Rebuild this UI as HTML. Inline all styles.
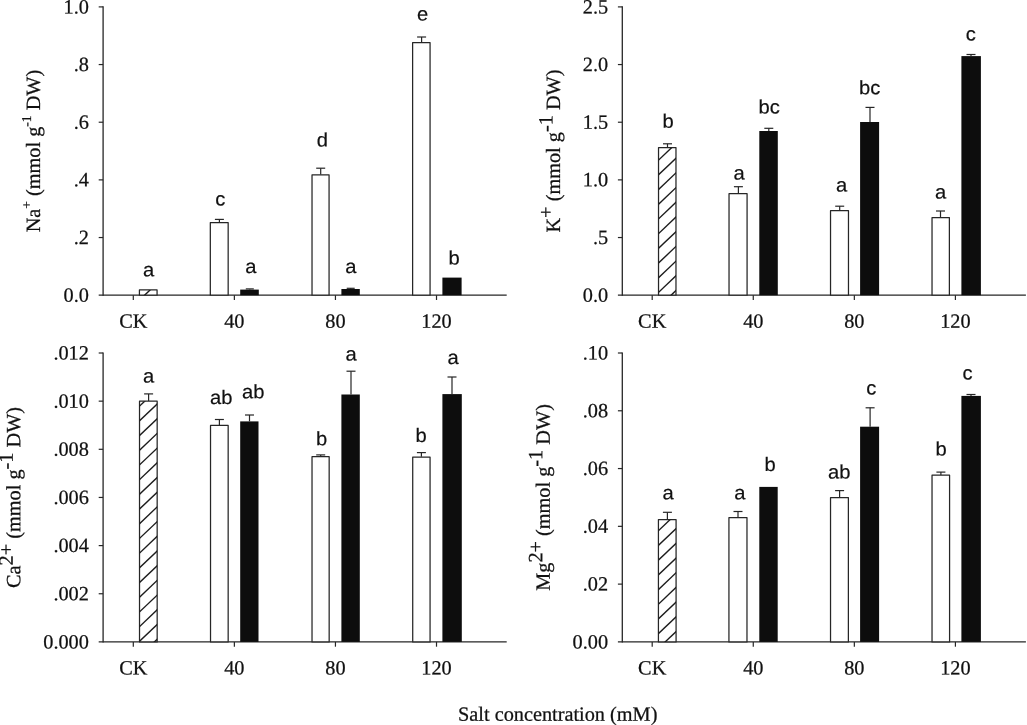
<!DOCTYPE html>
<html><head><meta charset="utf-8"><title>Figure</title>
<style>
html,body{margin:0;padding:0;background:#fff;}
body{width:1027px;height:725px;overflow:hidden;font-family:"Liberation Serif",serif;}
svg{display:block;filter:grayscale(1) blur(0.35px);}
</style></head>
<body>
<svg width="1027" height="725" viewBox="0 0 1027 725">
<rect width="1027" height="725" fill="#fff"/>
<line x1="103.10" y1="6.28" x2="103.10" y2="295.82" stroke="#262626" stroke-width="1.3"/>
<line x1="98.70" y1="295.20" x2="506.70" y2="295.20" stroke="#262626" stroke-width="1.3"/>
<text transform="translate(88.90,301.70) rotate(0.03)" text-anchor="end" font-family='"Liberation Serif", serif' font-size="20.3" fill="#111" stroke="#111" stroke-width="0.25">0.0</text>
<line x1="98.70" y1="237.54" x2="103.10" y2="237.54" stroke="#262626" stroke-width="1.2"/>
<text transform="translate(88.90,244.04) rotate(0.03)" text-anchor="end" font-family='"Liberation Serif", serif' font-size="20.3" fill="#111" stroke="#111" stroke-width="0.25">.2</text>
<line x1="98.70" y1="179.88" x2="103.10" y2="179.88" stroke="#262626" stroke-width="1.2"/>
<text transform="translate(88.90,186.38) rotate(0.03)" text-anchor="end" font-family='"Liberation Serif", serif' font-size="20.3" fill="#111" stroke="#111" stroke-width="0.25">.4</text>
<line x1="98.70" y1="122.22" x2="103.10" y2="122.22" stroke="#262626" stroke-width="1.2"/>
<text transform="translate(88.90,128.72) rotate(0.03)" text-anchor="end" font-family='"Liberation Serif", serif' font-size="20.3" fill="#111" stroke="#111" stroke-width="0.25">.6</text>
<line x1="98.70" y1="64.56" x2="103.10" y2="64.56" stroke="#262626" stroke-width="1.2"/>
<text transform="translate(88.90,71.06) rotate(0.03)" text-anchor="end" font-family='"Liberation Serif", serif' font-size="20.3" fill="#111" stroke="#111" stroke-width="0.25">.8</text>
<line x1="98.70" y1="6.90" x2="103.10" y2="6.90" stroke="#262626" stroke-width="1.2"/>
<text transform="translate(88.90,13.40) rotate(0.03)" text-anchor="end" font-family='"Liberation Serif", serif' font-size="20.3" fill="#111" stroke="#111" stroke-width="0.25">1.0</text>
<line x1="133.30" y1="295.20" x2="133.30" y2="300.00" stroke="#262626" stroke-width="1.2"/>
<text transform="translate(133.30,327.70) rotate(0.03)" text-anchor="middle" font-family='"Liberation Serif", serif' font-size="20.3" fill="#111" stroke="#111" stroke-width="0.25">CK</text>
<line x1="234.37" y1="295.20" x2="234.37" y2="300.00" stroke="#262626" stroke-width="1.2"/>
<text transform="translate(234.37,327.70) rotate(0.03)" text-anchor="middle" font-family='"Liberation Serif", serif' font-size="20.3" fill="#111" stroke="#111" stroke-width="0.25">40</text>
<line x1="335.44" y1="295.20" x2="335.44" y2="300.00" stroke="#262626" stroke-width="1.2"/>
<text transform="translate(335.44,327.70) rotate(0.03)" text-anchor="middle" font-family='"Liberation Serif", serif' font-size="20.3" fill="#111" stroke="#111" stroke-width="0.25">80</text>
<line x1="436.51" y1="295.20" x2="436.51" y2="300.00" stroke="#262626" stroke-width="1.2"/>
<text transform="translate(436.51,327.70) rotate(0.03)" text-anchor="middle" font-family='"Liberation Serif", serif' font-size="20.3" fill="#111" stroke="#111" stroke-width="0.25">120</text>
<text transform="translate(40,151.05) rotate(-89.97)" text-anchor="middle" font-family='"Liberation Serif", serif' font-size="20.3" fill="#111" stroke="#111" stroke-width="0.25">Na<tspan dy="-9" font-size="13.5">+</tspan><tspan dy="9" font-size="13.5">&#8203;</tspan> (mmol g<tspan dy="-9" font-size="13.5">-1</tspan><tspan dy="9" font-size="13.5">&#8203;</tspan> DW)</text>
<rect x="139.42" y="289.93" width="17.65" height="5.27" fill="#fff" stroke="#262626" stroke-width="1.25" stroke-linejoin="round"/>
<clipPath id="c1"><rect x="139.42" y="289.93" width="17.65" height="5.27"/></clipPath>
<g clip-path="url(#c1)">
<line x1="135.80" y1="332.95" x2="160.70" y2="309.29" stroke="#1c1c1c" stroke-width="1.4"/>
<line x1="135.80" y1="318.25" x2="160.70" y2="294.59" stroke="#1c1c1c" stroke-width="1.4"/>
<line x1="135.80" y1="303.55" x2="160.70" y2="279.89" stroke="#1c1c1c" stroke-width="1.4"/>
<line x1="135.80" y1="288.85" x2="160.70" y2="265.19" stroke="#1c1c1c" stroke-width="1.4"/>
</g>
<rect x="210.32" y="222.53" width="17.85" height="72.67" fill="#fff" stroke="#262626" stroke-width="1.25" stroke-linejoin="round"/>
<line x1="219.40" y1="222.30" x2="219.40" y2="219.40" stroke="#262626" stroke-width="1.2"/>
<line x1="214.90" y1="219.40" x2="223.90" y2="219.40" stroke="#262626" stroke-width="1.2"/>
<rect x="240.20" y="289.60" width="18.60" height="5.60" fill="#0d0d0d"/>
<line x1="249.80" y1="289.60" x2="249.80" y2="288.90" stroke="#262626" stroke-width="1.2"/>
<line x1="245.80" y1="288.90" x2="253.80" y2="288.90" stroke="#262626" stroke-width="1.2"/>
<rect x="312.02" y="174.82" width="17.05" height="120.38" fill="#fff" stroke="#262626" stroke-width="1.25" stroke-linejoin="round"/>
<line x1="320.70" y1="174.60" x2="320.70" y2="168.20" stroke="#262626" stroke-width="1.2"/>
<line x1="316.20" y1="168.20" x2="325.20" y2="168.20" stroke="#262626" stroke-width="1.2"/>
<rect x="341.40" y="289.00" width="18.40" height="6.20" fill="#0d0d0d"/>
<line x1="350.70" y1="289.00" x2="350.70" y2="288.30" stroke="#262626" stroke-width="1.2"/>
<line x1="346.70" y1="288.30" x2="354.70" y2="288.30" stroke="#262626" stroke-width="1.2"/>
<rect x="412.62" y="42.52" width="17.45" height="252.67" fill="#fff" stroke="#262626" stroke-width="1.25" stroke-linejoin="round"/>
<line x1="421.60" y1="42.30" x2="421.60" y2="37.00" stroke="#262626" stroke-width="1.2"/>
<line x1="417.10" y1="37.00" x2="426.10" y2="37.00" stroke="#262626" stroke-width="1.2"/>
<rect x="442.40" y="277.60" width="19.20" height="17.60" fill="#0d0d0d"/>
<text transform="translate(148.50,276.30) rotate(0.03) scale(1.04,1)" text-anchor="middle" font-family='"Liberation Sans", sans-serif' font-size="19.4" fill="#111" stroke="#111" stroke-width="0.2">a</text>
<text transform="translate(220.20,205.50) rotate(0.03) scale(1.04,1)" text-anchor="middle" font-family='"Liberation Sans", sans-serif' font-size="19.4" fill="#111" stroke="#111" stroke-width="0.2">c</text>
<text transform="translate(250.80,273.10) rotate(0.03) scale(1.04,1)" text-anchor="middle" font-family='"Liberation Sans", sans-serif' font-size="19.4" fill="#111" stroke="#111" stroke-width="0.2">a</text>
<text transform="translate(322.40,146.40) rotate(0.03) scale(1.04,1)" text-anchor="middle" font-family='"Liberation Sans", sans-serif' font-size="19.4" fill="#111" stroke="#111" stroke-width="0.2">d</text>
<text transform="translate(350.90,273.10) rotate(0.03) scale(1.04,1)" text-anchor="middle" font-family='"Liberation Sans", sans-serif' font-size="19.4" fill="#111" stroke="#111" stroke-width="0.2">a</text>
<text transform="translate(422.70,20.50) rotate(0.03) scale(1.04,1)" text-anchor="middle" font-family='"Liberation Sans", sans-serif' font-size="19.4" fill="#111" stroke="#111" stroke-width="0.2">e</text>
<text transform="translate(454.20,264.50) rotate(0.03) scale(1.04,1)" text-anchor="middle" font-family='"Liberation Sans", sans-serif' font-size="19.4" fill="#111" stroke="#111" stroke-width="0.2">b</text>
<line x1="622.30" y1="6.28" x2="622.30" y2="295.82" stroke="#262626" stroke-width="1.3"/>
<line x1="617.90" y1="295.20" x2="1025.90" y2="295.20" stroke="#262626" stroke-width="1.3"/>
<text transform="translate(608.10,301.70) rotate(0.03)" text-anchor="end" font-family='"Liberation Serif", serif' font-size="20.3" fill="#111" stroke="#111" stroke-width="0.25">0.0</text>
<line x1="617.90" y1="237.54" x2="622.30" y2="237.54" stroke="#262626" stroke-width="1.2"/>
<text transform="translate(608.10,244.04) rotate(0.03)" text-anchor="end" font-family='"Liberation Serif", serif' font-size="20.3" fill="#111" stroke="#111" stroke-width="0.25">.5</text>
<line x1="617.90" y1="179.88" x2="622.30" y2="179.88" stroke="#262626" stroke-width="1.2"/>
<text transform="translate(608.10,186.38) rotate(0.03)" text-anchor="end" font-family='"Liberation Serif", serif' font-size="20.3" fill="#111" stroke="#111" stroke-width="0.25">1.0</text>
<line x1="617.90" y1="122.22" x2="622.30" y2="122.22" stroke="#262626" stroke-width="1.2"/>
<text transform="translate(608.10,128.72) rotate(0.03)" text-anchor="end" font-family='"Liberation Serif", serif' font-size="20.3" fill="#111" stroke="#111" stroke-width="0.25">1.5</text>
<line x1="617.90" y1="64.56" x2="622.30" y2="64.56" stroke="#262626" stroke-width="1.2"/>
<text transform="translate(608.10,71.06) rotate(0.03)" text-anchor="end" font-family='"Liberation Serif", serif' font-size="20.3" fill="#111" stroke="#111" stroke-width="0.25">2.0</text>
<line x1="617.90" y1="6.90" x2="622.30" y2="6.90" stroke="#262626" stroke-width="1.2"/>
<text transform="translate(608.10,13.40) rotate(0.03)" text-anchor="end" font-family='"Liberation Serif", serif' font-size="20.3" fill="#111" stroke="#111" stroke-width="0.25">2.5</text>
<line x1="652.20" y1="295.20" x2="652.20" y2="300.00" stroke="#262626" stroke-width="1.2"/>
<text transform="translate(652.20,327.70) rotate(0.03)" text-anchor="middle" font-family='"Liberation Serif", serif' font-size="20.3" fill="#111" stroke="#111" stroke-width="0.25">CK</text>
<line x1="753.27" y1="295.20" x2="753.27" y2="300.00" stroke="#262626" stroke-width="1.2"/>
<text transform="translate(753.27,327.70) rotate(0.03)" text-anchor="middle" font-family='"Liberation Serif", serif' font-size="20.3" fill="#111" stroke="#111" stroke-width="0.25">40</text>
<line x1="854.34" y1="295.20" x2="854.34" y2="300.00" stroke="#262626" stroke-width="1.2"/>
<text transform="translate(854.34,327.70) rotate(0.03)" text-anchor="middle" font-family='"Liberation Serif", serif' font-size="20.3" fill="#111" stroke="#111" stroke-width="0.25">80</text>
<line x1="955.41" y1="295.20" x2="955.41" y2="300.00" stroke="#262626" stroke-width="1.2"/>
<text transform="translate(955.41,327.70) rotate(0.03)" text-anchor="middle" font-family='"Liberation Serif", serif' font-size="20.3" fill="#111" stroke="#111" stroke-width="0.25">120</text>
<text transform="translate(560,151.05) rotate(-89.97)" text-anchor="middle" font-family='"Liberation Serif", serif' font-size="20.3" fill="#111" stroke="#111" stroke-width="0.25">K<tspan dy="-7.5" font-size="20.3">+</tspan><tspan dy="7.5" font-size="20.3">&#8203;</tspan> (mmol g<tspan dy="-7.5" font-size="20.3">-1</tspan><tspan dy="7.5" font-size="20.3">&#8203;</tspan> DW)</text>
<rect x="658.53" y="147.62" width="17.45" height="147.57" fill="#fff" stroke="#262626" stroke-width="1.25" stroke-linejoin="round"/>
<clipPath id="c2"><rect x="658.53" y="147.62" width="17.45" height="147.57"/></clipPath>
<g clip-path="url(#c2)">
<line x1="654.90" y1="339.95" x2="679.60" y2="316.49" stroke="#1c1c1c" stroke-width="1.4"/>
<line x1="654.90" y1="325.25" x2="679.60" y2="301.79" stroke="#1c1c1c" stroke-width="1.4"/>
<line x1="654.90" y1="310.55" x2="679.60" y2="287.09" stroke="#1c1c1c" stroke-width="1.4"/>
<line x1="654.90" y1="295.85" x2="679.60" y2="272.39" stroke="#1c1c1c" stroke-width="1.4"/>
<line x1="654.90" y1="281.15" x2="679.60" y2="257.69" stroke="#1c1c1c" stroke-width="1.4"/>
<line x1="654.90" y1="266.45" x2="679.60" y2="242.99" stroke="#1c1c1c" stroke-width="1.4"/>
<line x1="654.90" y1="251.75" x2="679.60" y2="228.29" stroke="#1c1c1c" stroke-width="1.4"/>
<line x1="654.90" y1="237.05" x2="679.60" y2="213.59" stroke="#1c1c1c" stroke-width="1.4"/>
<line x1="654.90" y1="222.35" x2="679.60" y2="198.89" stroke="#1c1c1c" stroke-width="1.4"/>
<line x1="654.90" y1="207.65" x2="679.60" y2="184.19" stroke="#1c1c1c" stroke-width="1.4"/>
<line x1="654.90" y1="192.95" x2="679.60" y2="169.49" stroke="#1c1c1c" stroke-width="1.4"/>
<line x1="654.90" y1="178.25" x2="679.60" y2="154.79" stroke="#1c1c1c" stroke-width="1.4"/>
<line x1="654.90" y1="163.55" x2="679.60" y2="140.09" stroke="#1c1c1c" stroke-width="1.4"/>
<line x1="654.90" y1="148.85" x2="679.60" y2="125.39" stroke="#1c1c1c" stroke-width="1.4"/>
</g>
<line x1="667.50" y1="147.60" x2="667.50" y2="143.80" stroke="#262626" stroke-width="1.2"/>
<line x1="663.00" y1="143.80" x2="672.00" y2="143.80" stroke="#262626" stroke-width="1.2"/>
<rect x="729.03" y="193.72" width="18.05" height="101.47" fill="#fff" stroke="#262626" stroke-width="1.25" stroke-linejoin="round"/>
<line x1="738.40" y1="193.50" x2="738.40" y2="186.70" stroke="#262626" stroke-width="1.2"/>
<line x1="733.90" y1="186.70" x2="742.90" y2="186.70" stroke="#262626" stroke-width="1.2"/>
<rect x="759.30" y="131.00" width="18.50" height="164.20" fill="#0d0d0d"/>
<line x1="768.80" y1="131.00" x2="768.80" y2="128.30" stroke="#262626" stroke-width="1.2"/>
<line x1="764.30" y1="128.30" x2="773.30" y2="128.30" stroke="#262626" stroke-width="1.2"/>
<rect x="830.53" y="210.72" width="17.95" height="84.47" fill="#fff" stroke="#262626" stroke-width="1.25" stroke-linejoin="round"/>
<line x1="839.70" y1="210.50" x2="839.70" y2="206.20" stroke="#262626" stroke-width="1.2"/>
<line x1="835.20" y1="206.20" x2="844.20" y2="206.20" stroke="#262626" stroke-width="1.2"/>
<rect x="860.10" y="122.00" width="19.00" height="173.20" fill="#0d0d0d"/>
<line x1="870.00" y1="122.00" x2="870.00" y2="107.40" stroke="#262626" stroke-width="1.2"/>
<line x1="865.50" y1="107.40" x2="874.50" y2="107.40" stroke="#262626" stroke-width="1.2"/>
<rect x="932.03" y="217.62" width="17.35" height="77.57" fill="#fff" stroke="#262626" stroke-width="1.25" stroke-linejoin="round"/>
<line x1="940.50" y1="217.40" x2="940.50" y2="211.00" stroke="#262626" stroke-width="1.2"/>
<line x1="936.00" y1="211.00" x2="945.00" y2="211.00" stroke="#262626" stroke-width="1.2"/>
<rect x="961.40" y="56.10" width="19.50" height="239.10" fill="#0d0d0d"/>
<line x1="971.00" y1="56.10" x2="971.00" y2="54.50" stroke="#262626" stroke-width="1.2"/>
<line x1="966.50" y1="54.50" x2="975.50" y2="54.50" stroke="#262626" stroke-width="1.2"/>
<text transform="translate(668.10,127.70) rotate(0.03) scale(1.04,1)" text-anchor="middle" font-family='"Liberation Sans", sans-serif' font-size="19.4" fill="#111" stroke="#111" stroke-width="0.2">b</text>
<text transform="translate(739.00,179.40) rotate(0.03) scale(1.04,1)" text-anchor="middle" font-family='"Liberation Sans", sans-serif' font-size="19.4" fill="#111" stroke="#111" stroke-width="0.2">a</text>
<text transform="translate(769.10,113.60) rotate(0.03) scale(1.04,1)" text-anchor="middle" font-family='"Liberation Sans", sans-serif' font-size="19.4" fill="#111" stroke="#111" stroke-width="0.2">bc</text>
<text transform="translate(841.60,191.60) rotate(0.03) scale(1.04,1)" text-anchor="middle" font-family='"Liberation Sans", sans-serif' font-size="19.4" fill="#111" stroke="#111" stroke-width="0.2">a</text>
<text transform="translate(869.70,94.30) rotate(0.03) scale(1.04,1)" text-anchor="middle" font-family='"Liberation Sans", sans-serif' font-size="19.4" fill="#111" stroke="#111" stroke-width="0.2">bc</text>
<text transform="translate(940.50,198.50) rotate(0.03) scale(1.04,1)" text-anchor="middle" font-family='"Liberation Sans", sans-serif' font-size="19.4" fill="#111" stroke="#111" stroke-width="0.2">a</text>
<text transform="translate(970.70,40.40) rotate(0.03) scale(1.04,1)" text-anchor="middle" font-family='"Liberation Sans", sans-serif' font-size="19.4" fill="#111" stroke="#111" stroke-width="0.2">c</text>
<line x1="103.10" y1="352.38" x2="103.10" y2="642.52" stroke="#262626" stroke-width="1.3"/>
<line x1="98.70" y1="641.90" x2="506.70" y2="641.90" stroke="#262626" stroke-width="1.3"/>
<text transform="translate(88.90,648.40) rotate(0.03)" text-anchor="end" font-family='"Liberation Serif", serif' font-size="20.3" fill="#111" stroke="#111" stroke-width="0.25">0.000</text>
<line x1="98.70" y1="593.75" x2="103.10" y2="593.75" stroke="#262626" stroke-width="1.2"/>
<text transform="translate(88.90,600.25) rotate(0.03)" text-anchor="end" font-family='"Liberation Serif", serif' font-size="20.3" fill="#111" stroke="#111" stroke-width="0.25">.002</text>
<line x1="98.70" y1="545.60" x2="103.10" y2="545.60" stroke="#262626" stroke-width="1.2"/>
<text transform="translate(88.90,552.10) rotate(0.03)" text-anchor="end" font-family='"Liberation Serif", serif' font-size="20.3" fill="#111" stroke="#111" stroke-width="0.25">.004</text>
<line x1="98.70" y1="497.45" x2="103.10" y2="497.45" stroke="#262626" stroke-width="1.2"/>
<text transform="translate(88.90,503.95) rotate(0.03)" text-anchor="end" font-family='"Liberation Serif", serif' font-size="20.3" fill="#111" stroke="#111" stroke-width="0.25">.006</text>
<line x1="98.70" y1="449.30" x2="103.10" y2="449.30" stroke="#262626" stroke-width="1.2"/>
<text transform="translate(88.90,455.80) rotate(0.03)" text-anchor="end" font-family='"Liberation Serif", serif' font-size="20.3" fill="#111" stroke="#111" stroke-width="0.25">.008</text>
<line x1="98.70" y1="401.15" x2="103.10" y2="401.15" stroke="#262626" stroke-width="1.2"/>
<text transform="translate(88.90,407.65) rotate(0.03)" text-anchor="end" font-family='"Liberation Serif", serif' font-size="20.3" fill="#111" stroke="#111" stroke-width="0.25">.010</text>
<line x1="98.70" y1="353.00" x2="103.10" y2="353.00" stroke="#262626" stroke-width="1.2"/>
<text transform="translate(88.90,359.50) rotate(0.03)" text-anchor="end" font-family='"Liberation Serif", serif' font-size="20.3" fill="#111" stroke="#111" stroke-width="0.25">.012</text>
<line x1="133.30" y1="641.90" x2="133.30" y2="646.70" stroke="#262626" stroke-width="1.2"/>
<text transform="translate(133.30,674.40) rotate(0.03)" text-anchor="middle" font-family='"Liberation Serif", serif' font-size="20.3" fill="#111" stroke="#111" stroke-width="0.25">CK</text>
<line x1="234.37" y1="641.90" x2="234.37" y2="646.70" stroke="#262626" stroke-width="1.2"/>
<text transform="translate(234.37,674.40) rotate(0.03)" text-anchor="middle" font-family='"Liberation Serif", serif' font-size="20.3" fill="#111" stroke="#111" stroke-width="0.25">40</text>
<line x1="335.44" y1="641.90" x2="335.44" y2="646.70" stroke="#262626" stroke-width="1.2"/>
<text transform="translate(335.44,674.40) rotate(0.03)" text-anchor="middle" font-family='"Liberation Serif", serif' font-size="20.3" fill="#111" stroke="#111" stroke-width="0.25">80</text>
<line x1="436.51" y1="641.90" x2="436.51" y2="646.70" stroke="#262626" stroke-width="1.2"/>
<text transform="translate(436.51,674.40) rotate(0.03)" text-anchor="middle" font-family='"Liberation Serif", serif' font-size="20.3" fill="#111" stroke="#111" stroke-width="0.25">120</text>
<text transform="translate(20.2,497.45) rotate(-89.97)" text-anchor="middle" font-family='"Liberation Serif", serif' font-size="20.3" fill="#111" stroke="#111" stroke-width="0.25">Ca<tspan dy="-7.5" font-size="20.3">2+</tspan><tspan dy="7.5" font-size="20.3">&#8203;</tspan> (mmol g<tspan dy="-7.5" font-size="20.3">-1</tspan><tspan dy="7.5" font-size="20.3">&#8203;</tspan> DW)</text>
<rect x="139.52" y="401.23" width="17.65" height="240.67" fill="#fff" stroke="#262626" stroke-width="1.25" stroke-linejoin="round"/>
<clipPath id="c3"><rect x="139.52" y="401.23" width="17.65" height="240.67"/></clipPath>
<g clip-path="url(#c3)">
<line x1="135.90" y1="688.85" x2="160.80" y2="665.20" stroke="#1c1c1c" stroke-width="1.4"/>
<line x1="135.90" y1="674.15" x2="160.80" y2="650.50" stroke="#1c1c1c" stroke-width="1.4"/>
<line x1="135.90" y1="659.45" x2="160.80" y2="635.80" stroke="#1c1c1c" stroke-width="1.4"/>
<line x1="135.90" y1="644.75" x2="160.80" y2="621.10" stroke="#1c1c1c" stroke-width="1.4"/>
<line x1="135.90" y1="630.05" x2="160.80" y2="606.39" stroke="#1c1c1c" stroke-width="1.4"/>
<line x1="135.90" y1="615.35" x2="160.80" y2="591.69" stroke="#1c1c1c" stroke-width="1.4"/>
<line x1="135.90" y1="600.65" x2="160.80" y2="576.99" stroke="#1c1c1c" stroke-width="1.4"/>
<line x1="135.90" y1="585.95" x2="160.80" y2="562.29" stroke="#1c1c1c" stroke-width="1.4"/>
<line x1="135.90" y1="571.25" x2="160.80" y2="547.59" stroke="#1c1c1c" stroke-width="1.4"/>
<line x1="135.90" y1="556.55" x2="160.80" y2="532.89" stroke="#1c1c1c" stroke-width="1.4"/>
<line x1="135.90" y1="541.85" x2="160.80" y2="518.19" stroke="#1c1c1c" stroke-width="1.4"/>
<line x1="135.90" y1="527.15" x2="160.80" y2="503.49" stroke="#1c1c1c" stroke-width="1.4"/>
<line x1="135.90" y1="512.45" x2="160.80" y2="488.79" stroke="#1c1c1c" stroke-width="1.4"/>
<line x1="135.90" y1="497.75" x2="160.80" y2="474.09" stroke="#1c1c1c" stroke-width="1.4"/>
<line x1="135.90" y1="483.05" x2="160.80" y2="459.39" stroke="#1c1c1c" stroke-width="1.4"/>
<line x1="135.90" y1="468.35" x2="160.80" y2="444.69" stroke="#1c1c1c" stroke-width="1.4"/>
<line x1="135.90" y1="453.65" x2="160.80" y2="429.99" stroke="#1c1c1c" stroke-width="1.4"/>
<line x1="135.90" y1="438.95" x2="160.80" y2="415.29" stroke="#1c1c1c" stroke-width="1.4"/>
<line x1="135.90" y1="424.25" x2="160.80" y2="400.59" stroke="#1c1c1c" stroke-width="1.4"/>
<line x1="135.90" y1="409.55" x2="160.80" y2="385.89" stroke="#1c1c1c" stroke-width="1.4"/>
</g>
<line x1="148.60" y1="401.00" x2="148.60" y2="393.90" stroke="#262626" stroke-width="1.2"/>
<line x1="144.10" y1="393.90" x2="153.10" y2="393.90" stroke="#262626" stroke-width="1.2"/>
<rect x="210.52" y="425.43" width="17.65" height="216.47" fill="#fff" stroke="#262626" stroke-width="1.25" stroke-linejoin="round"/>
<line x1="219.40" y1="425.20" x2="219.40" y2="419.50" stroke="#262626" stroke-width="1.2"/>
<line x1="214.90" y1="419.50" x2="223.90" y2="419.50" stroke="#262626" stroke-width="1.2"/>
<rect x="240.20" y="421.40" width="18.30" height="220.50" fill="#0d0d0d"/>
<line x1="249.50" y1="421.40" x2="249.50" y2="415.00" stroke="#262626" stroke-width="1.2"/>
<line x1="245.00" y1="415.00" x2="254.00" y2="415.00" stroke="#262626" stroke-width="1.2"/>
<rect x="312.02" y="456.73" width="17.15" height="185.17" fill="#fff" stroke="#262626" stroke-width="1.25" stroke-linejoin="round"/>
<line x1="320.70" y1="456.50" x2="320.70" y2="454.90" stroke="#262626" stroke-width="1.2"/>
<line x1="316.20" y1="454.90" x2="325.20" y2="454.90" stroke="#262626" stroke-width="1.2"/>
<rect x="341.40" y="394.50" width="18.40" height="247.40" fill="#0d0d0d"/>
<line x1="351.00" y1="394.50" x2="351.00" y2="371.20" stroke="#262626" stroke-width="1.2"/>
<line x1="346.50" y1="371.20" x2="355.50" y2="371.20" stroke="#262626" stroke-width="1.2"/>
<rect x="412.72" y="457.03" width="17.35" height="184.87" fill="#fff" stroke="#262626" stroke-width="1.25" stroke-linejoin="round"/>
<line x1="421.40" y1="456.80" x2="421.40" y2="452.60" stroke="#262626" stroke-width="1.2"/>
<line x1="416.90" y1="452.60" x2="425.90" y2="452.60" stroke="#262626" stroke-width="1.2"/>
<rect x="442.40" y="394.10" width="19.40" height="247.80" fill="#0d0d0d"/>
<line x1="452.00" y1="394.10" x2="452.00" y2="377.00" stroke="#262626" stroke-width="1.2"/>
<line x1="447.50" y1="377.00" x2="456.50" y2="377.00" stroke="#262626" stroke-width="1.2"/>
<text transform="translate(148.70,382.40) rotate(0.03) scale(1.04,1)" text-anchor="middle" font-family='"Liberation Sans", sans-serif' font-size="19.4" fill="#111" stroke="#111" stroke-width="0.2">a</text>
<text transform="translate(221.20,404.00) rotate(0.03) scale(1.04,1)" text-anchor="middle" font-family='"Liberation Sans", sans-serif' font-size="19.4" fill="#111" stroke="#111" stroke-width="0.2">ab</text>
<text transform="translate(253.30,398.30) rotate(0.03) scale(1.04,1)" text-anchor="middle" font-family='"Liberation Sans", sans-serif' font-size="19.4" fill="#111" stroke="#111" stroke-width="0.2">ab</text>
<text transform="translate(321.50,445.30) rotate(0.03) scale(1.04,1)" text-anchor="middle" font-family='"Liberation Sans", sans-serif' font-size="19.4" fill="#111" stroke="#111" stroke-width="0.2">b</text>
<text transform="translate(351.00,360.50) rotate(0.03) scale(1.04,1)" text-anchor="middle" font-family='"Liberation Sans", sans-serif' font-size="19.4" fill="#111" stroke="#111" stroke-width="0.2">a</text>
<text transform="translate(421.00,442.00) rotate(0.03) scale(1.04,1)" text-anchor="middle" font-family='"Liberation Sans", sans-serif' font-size="19.4" fill="#111" stroke="#111" stroke-width="0.2">b</text>
<text transform="translate(453.10,363.90) rotate(0.03) scale(1.04,1)" text-anchor="middle" font-family='"Liberation Sans", sans-serif' font-size="19.4" fill="#111" stroke="#111" stroke-width="0.2">a</text>
<line x1="622.30" y1="352.38" x2="622.30" y2="642.52" stroke="#262626" stroke-width="1.3"/>
<line x1="617.90" y1="641.90" x2="1025.90" y2="641.90" stroke="#262626" stroke-width="1.3"/>
<text transform="translate(608.10,648.40) rotate(0.03)" text-anchor="end" font-family='"Liberation Serif", serif' font-size="20.3" fill="#111" stroke="#111" stroke-width="0.25">0.00</text>
<line x1="617.90" y1="584.12" x2="622.30" y2="584.12" stroke="#262626" stroke-width="1.2"/>
<text transform="translate(608.10,590.62) rotate(0.03)" text-anchor="end" font-family='"Liberation Serif", serif' font-size="20.3" fill="#111" stroke="#111" stroke-width="0.25">.02</text>
<line x1="617.90" y1="526.34" x2="622.30" y2="526.34" stroke="#262626" stroke-width="1.2"/>
<text transform="translate(608.10,532.84) rotate(0.03)" text-anchor="end" font-family='"Liberation Serif", serif' font-size="20.3" fill="#111" stroke="#111" stroke-width="0.25">.04</text>
<line x1="617.90" y1="468.56" x2="622.30" y2="468.56" stroke="#262626" stroke-width="1.2"/>
<text transform="translate(608.10,475.06) rotate(0.03)" text-anchor="end" font-family='"Liberation Serif", serif' font-size="20.3" fill="#111" stroke="#111" stroke-width="0.25">.06</text>
<line x1="617.90" y1="410.78" x2="622.30" y2="410.78" stroke="#262626" stroke-width="1.2"/>
<text transform="translate(608.10,417.28) rotate(0.03)" text-anchor="end" font-family='"Liberation Serif", serif' font-size="20.3" fill="#111" stroke="#111" stroke-width="0.25">.08</text>
<line x1="617.90" y1="353.00" x2="622.30" y2="353.00" stroke="#262626" stroke-width="1.2"/>
<text transform="translate(608.10,359.50) rotate(0.03)" text-anchor="end" font-family='"Liberation Serif", serif' font-size="20.3" fill="#111" stroke="#111" stroke-width="0.25">.10</text>
<line x1="652.20" y1="641.90" x2="652.20" y2="646.70" stroke="#262626" stroke-width="1.2"/>
<text transform="translate(652.20,674.40) rotate(0.03)" text-anchor="middle" font-family='"Liberation Serif", serif' font-size="20.3" fill="#111" stroke="#111" stroke-width="0.25">CK</text>
<line x1="753.27" y1="641.90" x2="753.27" y2="646.70" stroke="#262626" stroke-width="1.2"/>
<text transform="translate(753.27,674.40) rotate(0.03)" text-anchor="middle" font-family='"Liberation Serif", serif' font-size="20.3" fill="#111" stroke="#111" stroke-width="0.25">40</text>
<line x1="854.34" y1="641.90" x2="854.34" y2="646.70" stroke="#262626" stroke-width="1.2"/>
<text transform="translate(854.34,674.40) rotate(0.03)" text-anchor="middle" font-family='"Liberation Serif", serif' font-size="20.3" fill="#111" stroke="#111" stroke-width="0.25">80</text>
<line x1="955.41" y1="641.90" x2="955.41" y2="646.70" stroke="#262626" stroke-width="1.2"/>
<text transform="translate(955.41,674.40) rotate(0.03)" text-anchor="middle" font-family='"Liberation Serif", serif' font-size="20.3" fill="#111" stroke="#111" stroke-width="0.25">120</text>
<text transform="translate(549.8,497.45) rotate(-89.97)" text-anchor="middle" font-family='"Liberation Serif", serif' font-size="20.3" fill="#111" stroke="#111" stroke-width="0.25">Mg<tspan dy="-7.5" font-size="20.3">2+</tspan><tspan dy="7.5" font-size="20.3">&#8203;</tspan> (mmol g<tspan dy="-7.5" font-size="20.3">-1</tspan><tspan dy="7.5" font-size="20.3">&#8203;</tspan> DW)</text>
<rect x="658.43" y="519.52" width="17.65" height="122.38" fill="#fff" stroke="#262626" stroke-width="1.25" stroke-linejoin="round"/>
<clipPath id="c4"><rect x="658.43" y="519.52" width="17.65" height="122.38"/></clipPath>
<g clip-path="url(#c4)">
<line x1="654.80" y1="681.15" x2="679.70" y2="657.50" stroke="#1c1c1c" stroke-width="1.4"/>
<line x1="654.80" y1="666.45" x2="679.70" y2="642.80" stroke="#1c1c1c" stroke-width="1.4"/>
<line x1="654.80" y1="651.75" x2="679.70" y2="628.10" stroke="#1c1c1c" stroke-width="1.4"/>
<line x1="654.80" y1="637.05" x2="679.70" y2="613.40" stroke="#1c1c1c" stroke-width="1.4"/>
<line x1="654.80" y1="622.35" x2="679.70" y2="598.70" stroke="#1c1c1c" stroke-width="1.4"/>
<line x1="654.80" y1="607.65" x2="679.70" y2="584.00" stroke="#1c1c1c" stroke-width="1.4"/>
<line x1="654.80" y1="592.95" x2="679.70" y2="569.30" stroke="#1c1c1c" stroke-width="1.4"/>
<line x1="654.80" y1="578.25" x2="679.70" y2="554.60" stroke="#1c1c1c" stroke-width="1.4"/>
<line x1="654.80" y1="563.55" x2="679.70" y2="539.90" stroke="#1c1c1c" stroke-width="1.4"/>
<line x1="654.80" y1="548.85" x2="679.70" y2="525.20" stroke="#1c1c1c" stroke-width="1.4"/>
<line x1="654.80" y1="534.15" x2="679.70" y2="510.50" stroke="#1c1c1c" stroke-width="1.4"/>
<line x1="654.80" y1="519.45" x2="679.70" y2="495.79" stroke="#1c1c1c" stroke-width="1.4"/>
</g>
<line x1="667.40" y1="519.70" x2="667.40" y2="512.30" stroke="#262626" stroke-width="1.2"/>
<line x1="662.90" y1="512.30" x2="671.90" y2="512.30" stroke="#262626" stroke-width="1.2"/>
<rect x="728.93" y="517.52" width="18.05" height="124.38" fill="#fff" stroke="#262626" stroke-width="1.25" stroke-linejoin="round"/>
<line x1="738.00" y1="517.30" x2="738.00" y2="511.50" stroke="#262626" stroke-width="1.2"/>
<line x1="733.50" y1="511.50" x2="742.50" y2="511.50" stroke="#262626" stroke-width="1.2"/>
<rect x="759.30" y="486.90" width="18.40" height="155.00" fill="#0d0d0d"/>
<rect x="830.53" y="497.62" width="17.85" height="144.27" fill="#fff" stroke="#262626" stroke-width="1.25" stroke-linejoin="round"/>
<line x1="839.60" y1="497.40" x2="839.60" y2="490.60" stroke="#262626" stroke-width="1.2"/>
<line x1="835.10" y1="490.60" x2="844.10" y2="490.60" stroke="#262626" stroke-width="1.2"/>
<rect x="860.10" y="426.70" width="19.00" height="215.20" fill="#0d0d0d"/>
<line x1="870.10" y1="426.70" x2="870.10" y2="407.80" stroke="#262626" stroke-width="1.2"/>
<line x1="865.60" y1="407.80" x2="874.60" y2="407.80" stroke="#262626" stroke-width="1.2"/>
<rect x="932.03" y="475.23" width="17.55" height="166.67" fill="#fff" stroke="#262626" stroke-width="1.25" stroke-linejoin="round"/>
<line x1="940.90" y1="475.00" x2="940.90" y2="472.10" stroke="#262626" stroke-width="1.2"/>
<line x1="936.40" y1="472.10" x2="945.40" y2="472.10" stroke="#262626" stroke-width="1.2"/>
<rect x="961.40" y="395.90" width="19.50" height="246.00" fill="#0d0d0d"/>
<line x1="971.00" y1="395.90" x2="971.00" y2="394.50" stroke="#262626" stroke-width="1.2"/>
<line x1="966.50" y1="394.50" x2="975.50" y2="394.50" stroke="#262626" stroke-width="1.2"/>
<text transform="translate(668.20,499.30) rotate(0.03) scale(1.04,1)" text-anchor="middle" font-family='"Liberation Sans", sans-serif' font-size="19.4" fill="#111" stroke="#111" stroke-width="0.2">a</text>
<text transform="translate(739.80,499.30) rotate(0.03) scale(1.04,1)" text-anchor="middle" font-family='"Liberation Sans", sans-serif' font-size="19.4" fill="#111" stroke="#111" stroke-width="0.2">a</text>
<text transform="translate(770.10,471.00) rotate(0.03) scale(1.04,1)" text-anchor="middle" font-family='"Liberation Sans", sans-serif' font-size="19.4" fill="#111" stroke="#111" stroke-width="0.2">b</text>
<text transform="translate(839.30,478.60) rotate(0.03) scale(1.04,1)" text-anchor="middle" font-family='"Liberation Sans", sans-serif' font-size="19.4" fill="#111" stroke="#111" stroke-width="0.2">ab</text>
<text transform="translate(871.40,394.60) rotate(0.03) scale(1.04,1)" text-anchor="middle" font-family='"Liberation Sans", sans-serif' font-size="19.4" fill="#111" stroke="#111" stroke-width="0.2">c</text>
<text transform="translate(941.20,455.60) rotate(0.03) scale(1.04,1)" text-anchor="middle" font-family='"Liberation Sans", sans-serif' font-size="19.4" fill="#111" stroke="#111" stroke-width="0.2">b</text>
<text transform="translate(967.60,379.40) rotate(0.03) scale(1.04,1)" text-anchor="middle" font-family='"Liberation Sans", sans-serif' font-size="19.4" fill="#111" stroke="#111" stroke-width="0.2">c</text>
<text transform="translate(557.7,720.8) rotate(0.03)" text-anchor="middle" font-family='"Liberation Serif", serif' font-size="20.3" fill="#111" stroke="#111" stroke-width="0.25">Salt concentration (mM)</text>
</svg>
</body></html>
